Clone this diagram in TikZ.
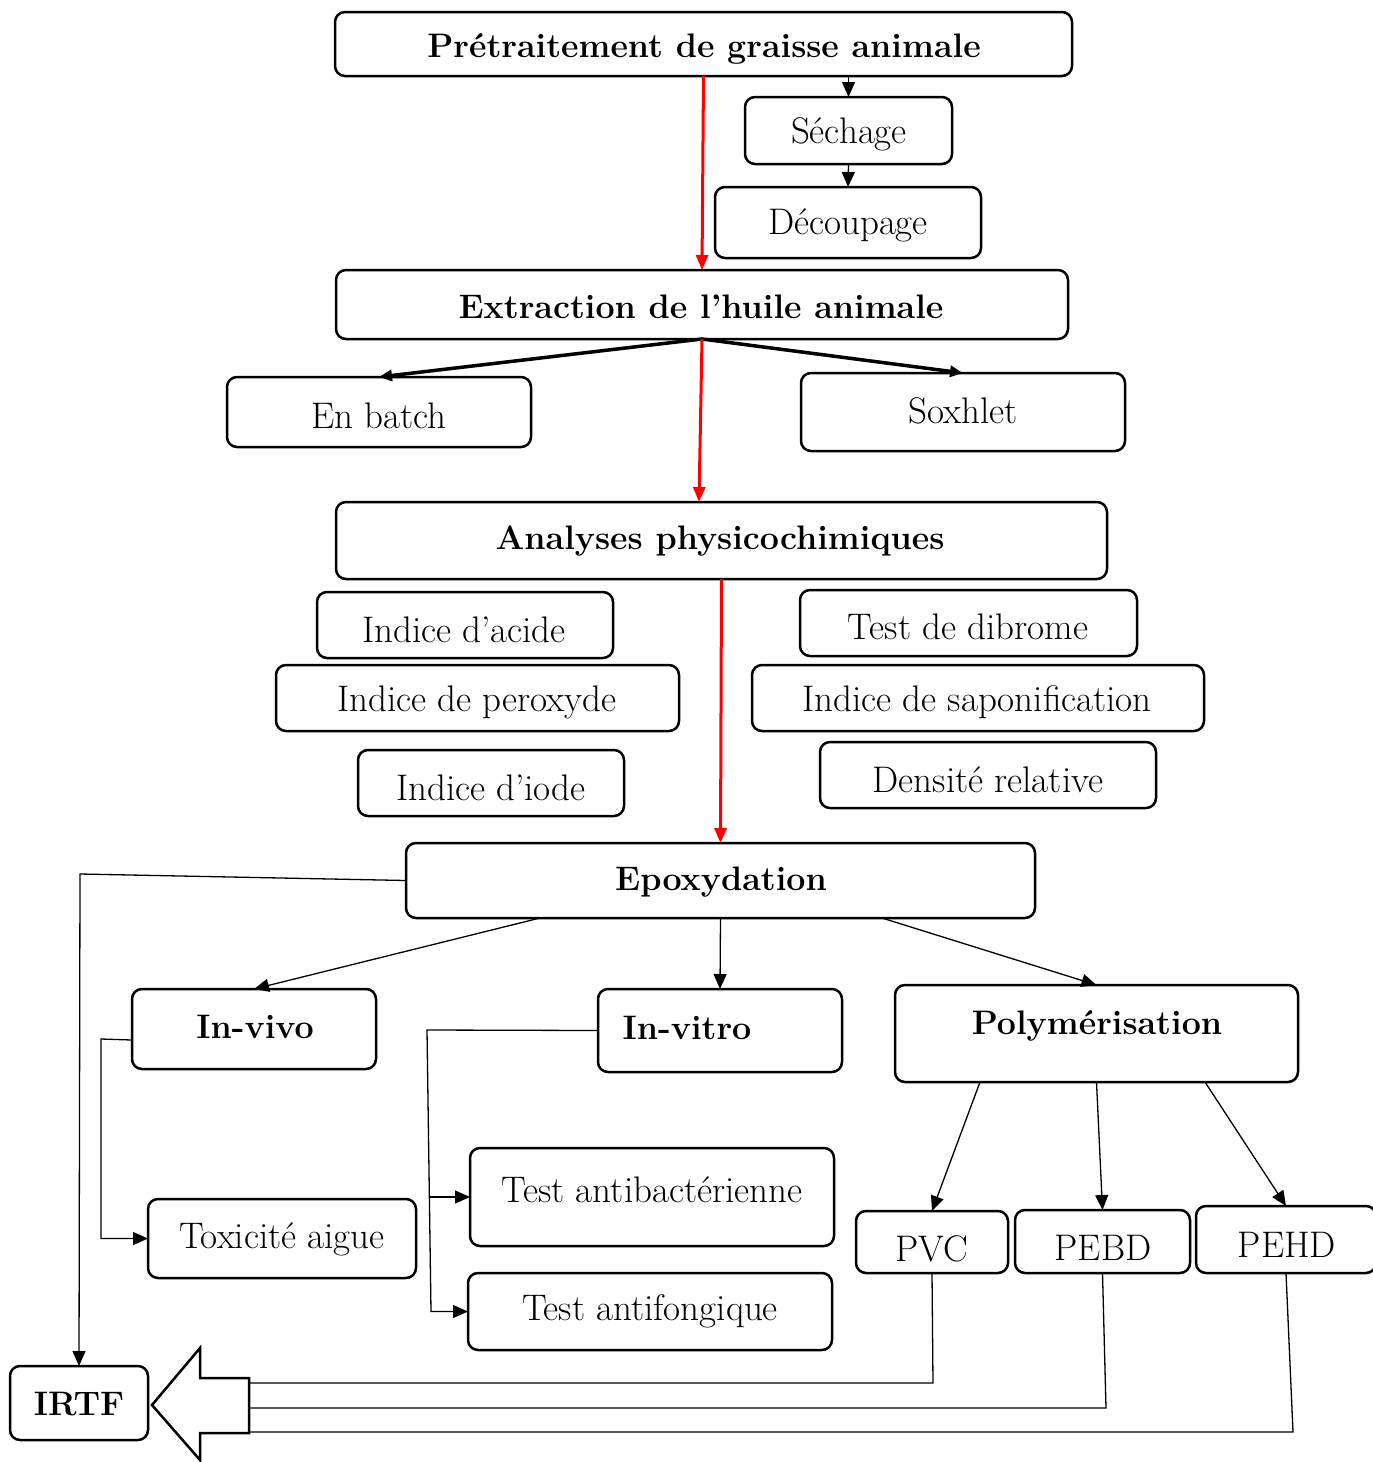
\documentclass[tikz,border=0pt]{standalone}
\usetikzlibrary{arrows.meta,calc}
\tikzset{
  bx/.style={draw, line width=2.5pt, rounded corners=10pt, inner sep=0pt, outer sep=0pt, fill=white},
  txt/.style={inner sep=0pt, yshift=-3pt, font=\fontsize{37}{44}\selectfont},
  btxt/.style={inner sep=0pt, yshift=-3pt, font=\fontsize{34}{40}\selectfont\bfseries},
  ln/.style={line width=1.3pt},
  tarr/.style={ln, -{Triangle[length=15pt,width=13pt]}},
  rarr/.style={draw=red, line width=3pt, -{Triangle[length=15pt,width=12pt]}},
  karr/.style={line width=3.5pt, -{Triangle[length=13pt,width=11pt]}},
}
\newcommand\bx[9]{%
  \node[bx, minimum width={#4-#2}, minimum height={#5-#3}] (#1) at ({(#2+#4)/2},{(#3+#5)/2}) {};
  \node[#9] (#1t) at (#6,#7) {#8};}
\begin{document}
\begin{tikzpicture}[x=1pt,y=-1pt]
\useasboundingbox[fill=white] (0,0) rectangle (1373,1462);

\bx{pre}{335}{12}{1072}{76}{704}{46}{Prétraitement de graisse animale}{btxt}
\bx{sech}{745}{97}{952}{164}{849}{131}{Séchage}{txt}
\bx{dec}{715}{187}{981}{258}{848}{222}{Découpage}{txt}
\bx{ext}{336}{270}{1068}{339}{701}{304}{Extraction de l’huile animale}{btxt}
\bx{batch}{227}{377}{531}{447}{379}{413}{En batch}{txt}
\bx{sox}{801}{373}{1125}{451}{963}{408}{Soxhlet}{txt}
\bx{ana}{336}{502}{1107}{579}{720}{538}{Analyses physicochimiques}{btxt}
\bx{acide}{317}{592}{613}{658}{464}{627}{Indice d’acide}{txt}
\bx{perox}{276}{665}{679}{731}{477}{699}{Indice de peroxyde}{txt}
\bx{iode}{358}{750}{624}{816}{491}{785}{Indice d’iode}{txt}
\bx{dibr}{800}{590}{1137}{656}{968}{624}{Test de dibrome}{txt}
\bx{sapo}{752}{665}{1204}{731}{977}{699}{Indice de saponification}{txt}
\bx{dens}{820}{742}{1156}{808}{988}{777}{Densité relative}{txt}
\bx{epox}{406}{843}{1035}{918}{721}{879}{Epoxydation}{btxt}
\bx{vivo}{132}{989}{376}{1069}{255}{1024}{In-vivo}{btxt}
\bx{vitro}{598}{989}{842}{1072}{687}{1025}{In-vitro}{btxt}
\bx{poly}{895}{985}{1298}{1082}{1097}{1023}{Polymérisation}{btxt}
\bx{tox}{148}{1199}{416}{1278}{282}{1236}{Toxicité aigue}{txt}
\bx{antib}{470}{1148}{834}{1246}{652}{1187}{Test antibactérienne}{txt}
\bx{antif}{468}{1273}{832}{1350}{650}{1308}{Test antifongique}{txt}
\bx{pvc}{856}{1211}{1008}{1273}{932}{1246}{PVC}{txt}
\bx{pebd}{1015}{1210}{1190}{1273}{1103}{1245}{PEBD}{txt}
\bx{pehd}{1196}{1206}{1376}{1273}{1287}{1242}{PEHD}{txt}
\bx{irtf}{10}{1366}{148}{1440}{79}{1401}{IRTF}{btxt}

% big hollow arrow
\draw[line width=2.5pt, fill=white, line join=miter] (152,1405) -- (200,1348) -- (200,1378) -- (249,1378) -- (249,1433) -- (200,1433) -- (200,1460) -- cycle;
\coordinate (s1) at (249,1383);
\coordinate (s2) at (249,1408);
\coordinate (s3) at (249,1432);

% top arrows
\draw[tarr] (pre.south -| sech.north) -- (sech.north);
\draw[tarr] (sech.south) -- (dec.north);
\draw[rarr] (pre.south) -- (ext.north);
\draw[karr] (ext.south) -- (batch.north);
\draw[karr] (ext.south) -- (sox.north);
\draw[rarr] (ext.south) -- ([xshift=-22.5pt]ana.north);
\draw[rarr] (ana.south) -- (epox.north);

% epoxydation
\draw[tarr] (epox.west) -- (80,874) -- (irtf.north);
\draw[tarr] ([xshift=-180.5pt]epox.south) -- (vivo.north);
\draw[tarr] (epox.south) -- (vitro.north);
\draw[tarr] ([xshift=161.5pt]epox.south) -- (poly.north);

% in-vivo / in-vitro
\draw[tarr] ([yshift=-11pt]vivo.west) -- (101,1039) -- (101,1238.5) -- (tox.west);
\draw[tarr] (vitro.west) -- (427,1030) -- (431,1311.5) -- (antif.west);
\draw[tarr] (430,1197) -- (antib.west);

% polymerisation
\draw[tarr] ([xshift=-116.5pt]poly.south) -- (pvc.north);
\draw[tarr] (poly.south) -- (pebd.north);
\draw[tarr] ([xshift=108.5pt]poly.south) -- (pehd.north);

% returns to IRTF arrow
\draw[ln] (pvc.south) -- (933,1383) -- (s1);
\draw[ln] (pebd.south) -- (1106,1408) -- (s2);
\draw[ln] (pehd.south) -- (1293,1432) -- (s3);
\end{tikzpicture}
\end{document}
